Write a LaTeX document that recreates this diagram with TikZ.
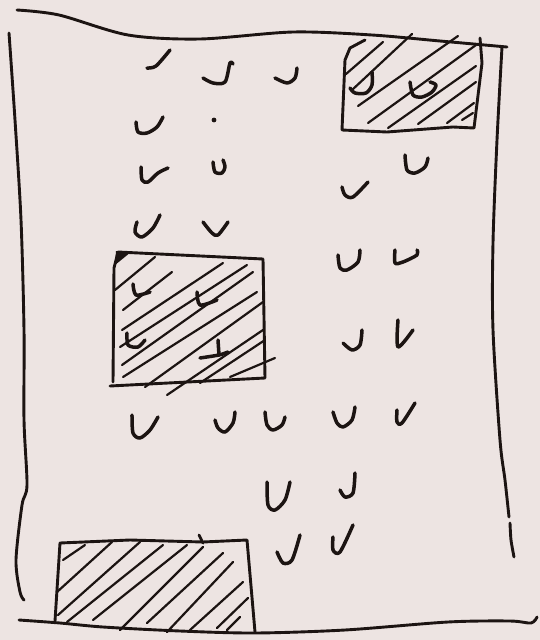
\documentclass[tikz,border=0pt]{standalone}
\definecolor{paper}{HTML}{EDE4E2}
\definecolor{ink}{HTML}{1C1412}
\begin{document}
\begin{tikzpicture}[x=1pt,y=-1pt,
  outline/.style={line width=2.9pt,draw=ink,line cap=round,line join=round},
  mk/.style={line width=3.5pt,draw=ink,line cap=round,line join=round},
  hatch/.style={line width=2.2pt,draw=ink,line cap=round}]
\fill[paper] (0,0) rectangle (540,640);
\useasboundingbox (0,0) rectangle (540,640);
% room outline
\draw[outline] plot[smooth] coordinates {(17,10)(59,15)(128,35)(200,39)(293,32)(372,35)(440,41)(507,47)};
\draw[outline] plot[smooth] coordinates {(9,33)(15,120)(21,220)(24,330)(24,420)(27,485)(22,505)(16,560)(20,592)(24,600)};
\draw[outline] plot[smooth] coordinates {(502,47)(497,140)(493,243)(493,330)(500,440)(505,480)(509,517)};
\draw[outline] plot[smooth] coordinates {(510,523)(511,540)(514,557)};
\draw[outline] plot[smooth] coordinates {(19,620)(60,623)(103,627)(180,631)(255,633)(345,630)(448,622)(510,621)(531,623)(537,617)};
% top-right block
\draw[outline] (365,40) -- (350,48) -- (345,60) -- (342,130) -- (387,132) -- (453,127) -- (474,128) -- (482,63) -- (480,38);
\foreach \a/\b in {{(346,74)}/{(383,42)},{(352,90)}/{(412,34)},{(358,106)}/{(458,36)},{(368,123)}/{(476,45)},{(388,128)}/{(476,66)},{(418,124)}/{(476,82)},{(447,123)}/{(474,103)},{(462,120)}/{(473,113)}}
  \draw[hatch] \a -- \b;
\draw[mk] plot[smooth] coordinates {(372,72)(372,85)(366,93)(355,93)(350,88)};
\draw[mk] plot[smooth] coordinates {(410,82)(413,95)(422,97)(432,92)(436,85)(430,82)};
% middle block
\draw[outline] (110,386) -- (265,378) -- (264,318) -- (263,259) -- (118,252) -- (114,268) -- (113,382);
\fill[ink] (116,251) -- (131,252) -- (115,265) -- cycle;
\foreach \a/\b in {{(115,290)}/{(155,257)},{(123,310)}/{(172,272)},{(122,330)}/{(223,263)},{(120,347)}/{(247,265)},{(122,365)}/{(253,272)},{(123,377)}/{(257,292)},{(145,387)}/{(263,302)},{(167,395)}/{(263,330)},{(200,383)}/{(265,340)},{(230,377)}/{(275,358)}}
  \draw[hatch] \a -- \b;
\draw[mk] plot[smooth] coordinates {(133,284)(136,295)(150,292)};
\draw[mk] plot[smooth] coordinates {(197,292)(200,305)(217,300)};
\draw[mk] plot[smooth] coordinates {(127,333)(128,345)(138,347)(145,340)};
\draw[mk] (218,340) -- (219,355);
\draw[mk] plot[smooth] coordinates {(200,358)(219,355)(228,352)};
% bottom block
\draw[outline] (55,621) -- (60,543) -- (130,540) -- (203,542) -- (247,540) -- (255,632);
\draw[outline] (199,535) -- (203,543);
\foreach \a/\b in {{(63,560)}/{(85,545)},{(57,592)}/{(112,542)},{(58,615)}/{(140,542)},{(67,622)}/{(163,545)},{(93,620)}/{(187,545)},{(120,630)}/{(203,547)},{(147,623)}/{(223,553)},{(167,632)}/{(233,562)},{(190,630)}/{(243,582)},{(217,628)}/{(248,598)},{(227,630)}/{(240,617)}}
  \draw[hatch] \a -- \b;
% seat marks
\draw[mk] plot[smooth] coordinates {(147,68)(156,66)(170,50)};
\draw[mk] plot[smooth] coordinates {(203,78)(213,83)(225,82)(230,63)(233,64)};
\draw[mk] plot[smooth] coordinates {(275,78)(287,83)(295,78)(297,68)};
\draw[mk] plot[smooth] coordinates {(136,122)(138,132)(147,133)(157,127)(163,117)};
\fill[ink] (214,120) circle (2.4);
\draw[mk] plot[smooth] coordinates {(141,167)(142,180)(148,182)(158,173)(168,168)};
\draw[mk] plot[smooth] coordinates {(213,162)(215,172)(222,173)(225,167)(223,160)};
\draw[mk] plot[smooth] coordinates {(405,155)(407,170)(415,173)(425,167)(428,158)};
\draw[mk] plot[smooth] coordinates {(342,187)(345,195)(353,197)(368,182)};
\draw[mk] plot[smooth] coordinates {(137,222)(135,232)(142,237)(153,228)(160,215)};
\draw[mk] plot[smooth] coordinates {(203,222)(212,233)(218,235)(228,222)};
\draw[mk] plot[smooth] coordinates {(338,255)(340,268)(347,270)(358,262)(360,250)};
\draw[mk] plot[smooth] coordinates {(395,250)(395,263)(403,262)(417,255)(417,250)};
\draw[mk] plot[smooth] coordinates {(343,343)(352,350)(360,345)(362,330)};
\draw[mk] plot[smooth] coordinates {(398,320)(398,347)(413,330)};
\draw[mk] plot[smooth] coordinates {(132,415)(133,433)(140,438)(150,430)(158,417)};
\draw[mk] plot[smooth] coordinates {(215,420)(218,428)(225,432)(233,423)(235,412)};
\draw[mk] plot[smooth] coordinates {(265,412)(267,425)(273,430)(282,425)(285,417)};
\draw[mk] plot[smooth] coordinates {(333,412)(337,423)(343,427)(352,420)(355,407)};
\draw[mk] plot[smooth] coordinates {(397,410)(397,422)(402,423)(415,403)};
\draw[mk] plot[smooth] coordinates {(267,482)(268,505)(275,510)(285,500)(290,482)};
\draw[mk] plot[smooth] coordinates {(340,490)(345,497)(353,493)(355,473)};
\draw[mk] plot[smooth] coordinates {(277,552)(283,563)(292,560)(300,535)};
\draw[mk] plot[smooth] coordinates {(333,537)(333,550)(340,552)(353,525)};
\end{tikzpicture}
\end{document}
